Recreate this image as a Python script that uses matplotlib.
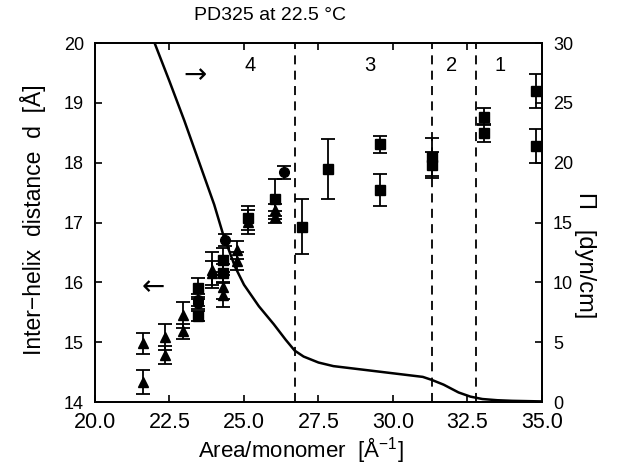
import numpy as np
import matplotlib
matplotlib.use("Agg")
import matplotlib.pyplot as plt

plt.rcParams['font.family'] = ['Liberation Sans', 'DejaVu Sans']

# surface pressure isotherm (right axis)
area = [22.0, 22.5, 23.0, 23.5, 24.0, 24.3, 24.7, 25.0, 25.5, 26.0, 26.4, 26.7,
        27.0, 27.5, 28.0, 28.5, 29.0, 29.5, 30.0, 30.5, 31.0, 31.3, 31.7, 32.2,
        32.6, 33.0, 33.5, 34.0, 35.0]
pressure = [30.0, 26.8, 23.5, 20.0, 16.5, 14.0, 11.3, 9.8, 8.0, 6.5, 5.2, 4.3,
            3.8, 3.3, 3.0, 2.85, 2.7, 2.55, 2.4, 2.25, 2.1, 1.85, 1.45, 0.8,
            0.45, 0.25, 0.15, 0.1, 0.05]

# inter-helix distances (left axis)
tri_x = [21.62, 21.62, 22.35, 22.35, 22.96, 22.96, 23.92, 23.92, 24.3, 24.3,
         24.75, 24.75, 25.15, 26.04, 26.04]
tri_d = [14.98, 14.34, 15.09, 14.79, 15.45, 15.18, 16.2, 16.15, 15.93, 15.79,
         16.54, 16.35, 17.01, 17.21, 17.1]
tri_e = [0.17, 0.2, 0.22, 0.15, 0.22, 0.12, 0.3, 0.2, 0.2, 0.2,
         0.15, 0.15, 0.2, 0.1, 0.1]

sq_x = [23.47, 23.47, 24.3, 24.3, 25.15, 26.04, 26.96, 27.81, 29.56, 29.56,
        31.3, 31.3, 33.06, 33.06, 34.8, 34.8]
sq_d = [15.9, 15.44, 16.37, 16.15, 17.07, 17.39, 16.93, 17.89, 18.31, 17.54,
        18.1, 17.96, 18.77, 18.5, 19.2, 18.28]
sq_e = [0.17, 0.08, 0.2, 0.15, 0.2, 0.33, 0.46, 0.5, 0.14, 0.27,
        0.32, 0.22, 0.14, 0.15, 0.28, 0.29]

ci_x = [23.47, 23.47, 24.35, 26.34]
ci_d = [15.7, 15.65, 16.7, 17.84]
ci_e = [0.1, 0.1, 0.1, 0.11]

region_bounds = [26.7, 31.3, 32.8]
region_labels = ['4', '3', '2', '1']
region_label_x = [25.2, 29.23, 31.98, 33.6]

fig = plt.figure(figsize=(6.18, 4.66), dpi=100)
ax = fig.add_axes([0.1537, 0.1373, 0.7233, 0.7704])

ebkw = dict(fmt='none', ecolor='black', elinewidth=1.3, capsize=5, capthick=1.3)
ax.errorbar(tri_x, tri_d, yerr=tri_e, **ebkw)
ax.errorbar(sq_x, sq_d, yerr=sq_e, **ebkw)
ax.errorbar(ci_x, ci_d, yerr=ci_e, **ebkw)
ax.plot(tri_x, tri_d, '^', color='black', ms=7)
ax.plot(sq_x, sq_d, 's', color='black', ms=7)
ax.plot(ci_x, ci_d, 'o', color='black', ms=7)

for b in region_bounds:
    ax.axvline(b, color='black', lw=1.3, ls=(0, (5, 3.5)))
for lab, lx in zip(region_labels, region_label_x):
    ax.text(lx, 19.63, lab, fontsize=14.5, ha='center', va='center')

ax.text(23.36, 19.47, '\u2192', fontsize=20, ha='center', va='center',
        family='DejaVu Sans')
ax.text(21.95, 15.92, '\u2190', fontsize=20, ha='center', va='center',
        family='DejaVu Sans')

ax.set_xlim(20, 35)
ax.set_ylim(14, 20)
ax.set_xticks(np.arange(20, 35.1, 2.5))
ax.set_xticklabels(['20.0', '22.5', '25.0', '27.5', '30.0', '32.5', '35.0'])
ax.set_yticks(range(14, 21))
ax.tick_params(direction='in', length=5, width=1.2, top=True)
ax.tick_params(axis='x', labelsize=15.5, pad=7.5)
ax.tick_params(axis='y', labelsize=13, pad=8)

ax.set_xlabel('Area/monomer  [$\\mathregular{\\AA^{-1}}$]', fontsize=16)
ax.xaxis.set_label_coords(0.461, -0.135)
ax.xaxis.label.set_va('center')
ax.set_ylabel('Inter\u2212helix  distance  d  [\u00c5]', fontsize=16.5)
ax.yaxis.set_label_coords(-0.139, 0.507)
ax.yaxis.label.set_va('center')

ax2 = ax.twinx()
ax2.plot(area, pressure, color='black', lw=1.8)
ax2.set_ylim(0, 30)
ax2.set_yticks(range(0, 31, 5))
ax2.tick_params(direction='in', length=5, width=1.2, labelsize=13, pad=8)
ax2.set_ylabel('\u03a0   [dyn/cm]', fontsize=17, rotation=270)
ax2.yaxis.set_label_coords(1.096, 0.41)
ax2.yaxis.label.set_va('center')

for a in (ax, ax2):
    for s in a.spines.values():
        s.set_linewidth(1.3)

fig.text(270 / 618, 1 - 16 / 466, 'PD325 at 22.5 \u00b0C', fontsize=14,
         ha='center', va='center')

fig.savefig('out.png', dpi=100)
